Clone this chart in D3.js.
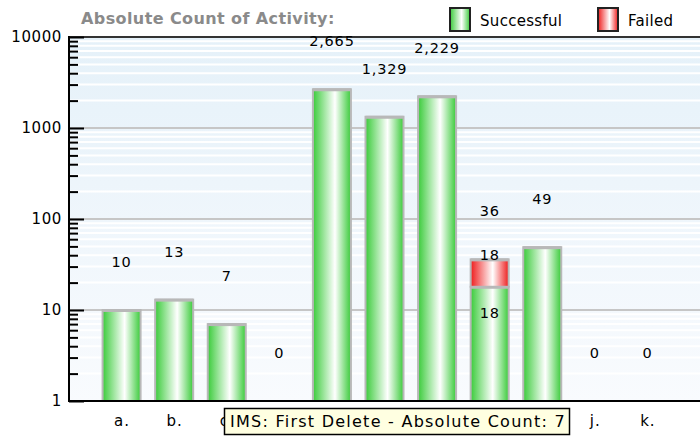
<!DOCTYPE html>
<html><head><meta charset="utf-8">
<script src="https://cdn.jsdelivr.net/npm/d3@7"></script>
<style>body{margin:0;background:#fff}svg{display:block}text{font-family:"DejaVu Sans",Verdana,sans-serif}</style>
</head><body><svg id="c" width="700" height="439"></svg>
<script>
const categories = ["a.","b.","c.","d.","e.","f.","g.","h.","i.","j.","k."];
const successful = [10,13,7,0,2665,1329,2229,18,49,0,0];
const failed = [0,0,0,0,0,0,0,18,0,0,0];
const yTicks = [1,10,100,1000,10000];
const seriesNames = ["Successful","Failed"];
const title = "Absolute Count of Activity:";
const tooltipText = "IMS: First Delete - Absolute Count: 7";

const svg = d3.select("#c");
const L = 69, R = 700, T = 37, B = 401;
const x = d3.scalePoint().domain(categories).range([L, R]).padding(1);
const y = d3.scaleLog().domain([1, 10000]).range([B, T]);
const fmt = d3.format(",");

const defs = svg.append("defs");
const bg = defs.append("linearGradient").attr("id","bg").attr("x1",0).attr("y1",0).attr("x2",0).attr("y2",1);
bg.append("stop").attr("offset","0%").attr("stop-color","#e5f1f9");
bg.append("stop").attr("offset","100%").attr("stop-color","#f9fbfe");
function hgrad(id, c){
  const g = defs.append("linearGradient").attr("id",id).attr("x1",0).attr("y1",0).attr("x2",1).attr("y2",0);
  g.append("stop").attr("offset","0%").attr("stop-color",c);
  g.append("stop").attr("offset","58%").attr("stop-color","#ffffff");
  g.append("stop").attr("offset","100%").attr("stop-color",c);
}
hgrad("gG","#3acb3a");
hgrad("gR","#ee1c1c");

svg.append("rect").attr("x",L).attr("y",T).attr("width",R-L).attr("height",B-T).attr("fill","url(#bg)");

// minor grid
const minors = [];
[1,10,100,1000].forEach(d => { for (let k=2;k<=9;k++) minors.push(d*k); });
svg.append("g").selectAll("line").data(minors).join("line")
  .attr("x1",L).attr("x2",R).attr("y1",d=>y(d)).attr("y2",d=>y(d))
  .attr("stroke","#ffffff").attr("stroke-width",2);
svg.append("g").selectAll("line").data([10,100,1000]).join("line")
  .attr("x1",L).attr("x2",R).attr("y1",d=>y(d)).attr("y2",d=>y(d))
  .attr("stroke","#c6c6c6").attr("stroke-width",2);
svg.append("line").attr("x1",L).attr("x2",R).attr("y1",T).attr("y2",T).attr("stroke","#333").attr("stroke-width",2);

// bars
const rows = categories.map((c,i)=>({c, s:successful[i], f:failed[i], t:successful[i]+failed[i]}));
const bw = 38;
const bars = svg.append("g");
rows.filter(d=>d.s>0).forEach(d=>{
  bars.append("rect").attr("x",x(d.c)-bw/2).attr("y",y(d.s)).attr("width",bw).attr("height",y(1)-y(d.s))
    .attr("fill","url(#gG)").attr("stroke","#b8b8b8").attr("stroke-width",2);
  bars.append("rect").attr("x",x(d.c)-bw/2).attr("y",y(d.s)-1).attr("width",bw).attr("height",3).attr("fill","#b8b8b8");
});
rows.filter(d=>d.f>0).forEach(d=>{
  bars.append("rect").attr("x",x(d.c)-bw/2).attr("y",y(d.t)).attr("width",bw).attr("height",y(d.s)-y(d.t))
    .attr("fill","url(#gR)").attr("stroke","#b8b8b8").attr("stroke-width",2);
  bars.append("rect").attr("x",x(d.c)-bw/2).attr("y",y(d.t)-1).attr("width",bw).attr("height",3).attr("fill","#b8b8b8");
});

// axes
const yAxisLab = d3.axisLeft(y).tickValues(yTicks).tickFormat(d3.format("d")).tickSize(0).tickPadding(7);
svg.append("g").attr("transform",`translate(${L},0)`).call(yAxisLab)
  .call(g=>{g.select(".domain").remove(); g.selectAll("text").attr("font-size",15).attr("letter-spacing",0.6).attr("fill","#000").attr("font-family","DejaVu Sans");});
svg.append("g").attr("transform",`translate(${L},0)`).call(d3.axisRight(y).tickValues(minors).tickSize(9).tickFormat(""))
  .call(g=>{g.select(".domain").remove(); g.selectAll("line").attr("stroke","#000").attr("stroke-width",2);});
svg.append("g").attr("transform",`translate(${L},0)`).call(d3.axisRight(y).tickValues(yTicks).tickSize(15).tickFormat(""))
  .call(g=>{g.select(".domain").remove(); g.selectAll("line").attr("stroke","#000").attr("stroke-width",2);});
svg.append("line").attr("x1",L).attr("x2",L).attr("y1",T-1).attr("y2",B+1).attr("stroke","#000").attr("stroke-width",2);
svg.append("line").attr("x1",L).attr("x2",R).attr("y1",B).attr("y2",B).attr("stroke","#000").attr("stroke-width",2);

const xAxis = d3.axisBottom(x).tickSize(0).tickPadding(14);
svg.append("g").attr("transform",`translate(0,${B})`).call(xAxis)
  .call(g=>{g.select(".domain").remove(); g.selectAll("text").attr("font-size",15).attr("letter-spacing",1).attr("fill","#000").attr("font-family","DejaVu Sans");});

// value labels
const lab = svg.append("g").attr("font-size",14.5).attr("letter-spacing",0.8).attr("text-anchor","middle").attr("fill","#000");
rows.forEach(d=>{
  const top = d.t>0 ? y(d.t) : y(1);
  lab.append("text").attr("x",x(d.c)).attr("y",top-43).text(fmt(d.t));
  if (d.f>0){
    lab.append("text").attr("x",x(d.c)).attr("y",y(d.t)+1).text(fmt(d.f));
    lab.append("text").attr("x",x(d.c)).attr("y",y(d.s)+31).text(fmt(d.s));
  }
});

// title
svg.append("text").attr("x",81).attr("y",24).attr("font-size",16).attr("letter-spacing",0.4).attr("font-weight","bold").attr("fill","#8a8a8a").text(title);

// legend
const lg = svg.append("g");
const legColors = ["url(#gG)","url(#gR)"];
const legX = [449, 597];
seriesNames.forEach((n,i)=>{
  lg.append("rect").attr("x",legX[i]+1).attr("y",8).attr("width",20).attr("height",23).attr("fill",legColors[i]).attr("stroke","#222").attr("stroke-width",2);
  lg.append("text").attr("x",legX[i]+31).attr("y",26).attr("font-size",15).attr("letter-spacing",0.3).attr("fill","#000").text(n);
});

// tooltip
const tt = svg.append("g");
tt.append("rect").attr("x",224.5).attr("y",408.5).attr("width",345).attr("height",26).attr("fill","#ffffe1").attr("stroke","#000").attr("stroke-width",1.5);
tt.append("text").attr("x",230).attr("y",427).attr("font-size",16).attr("letter-spacing",1.25).attr("fill","#000").text(tooltipText);
</script></body></html>
